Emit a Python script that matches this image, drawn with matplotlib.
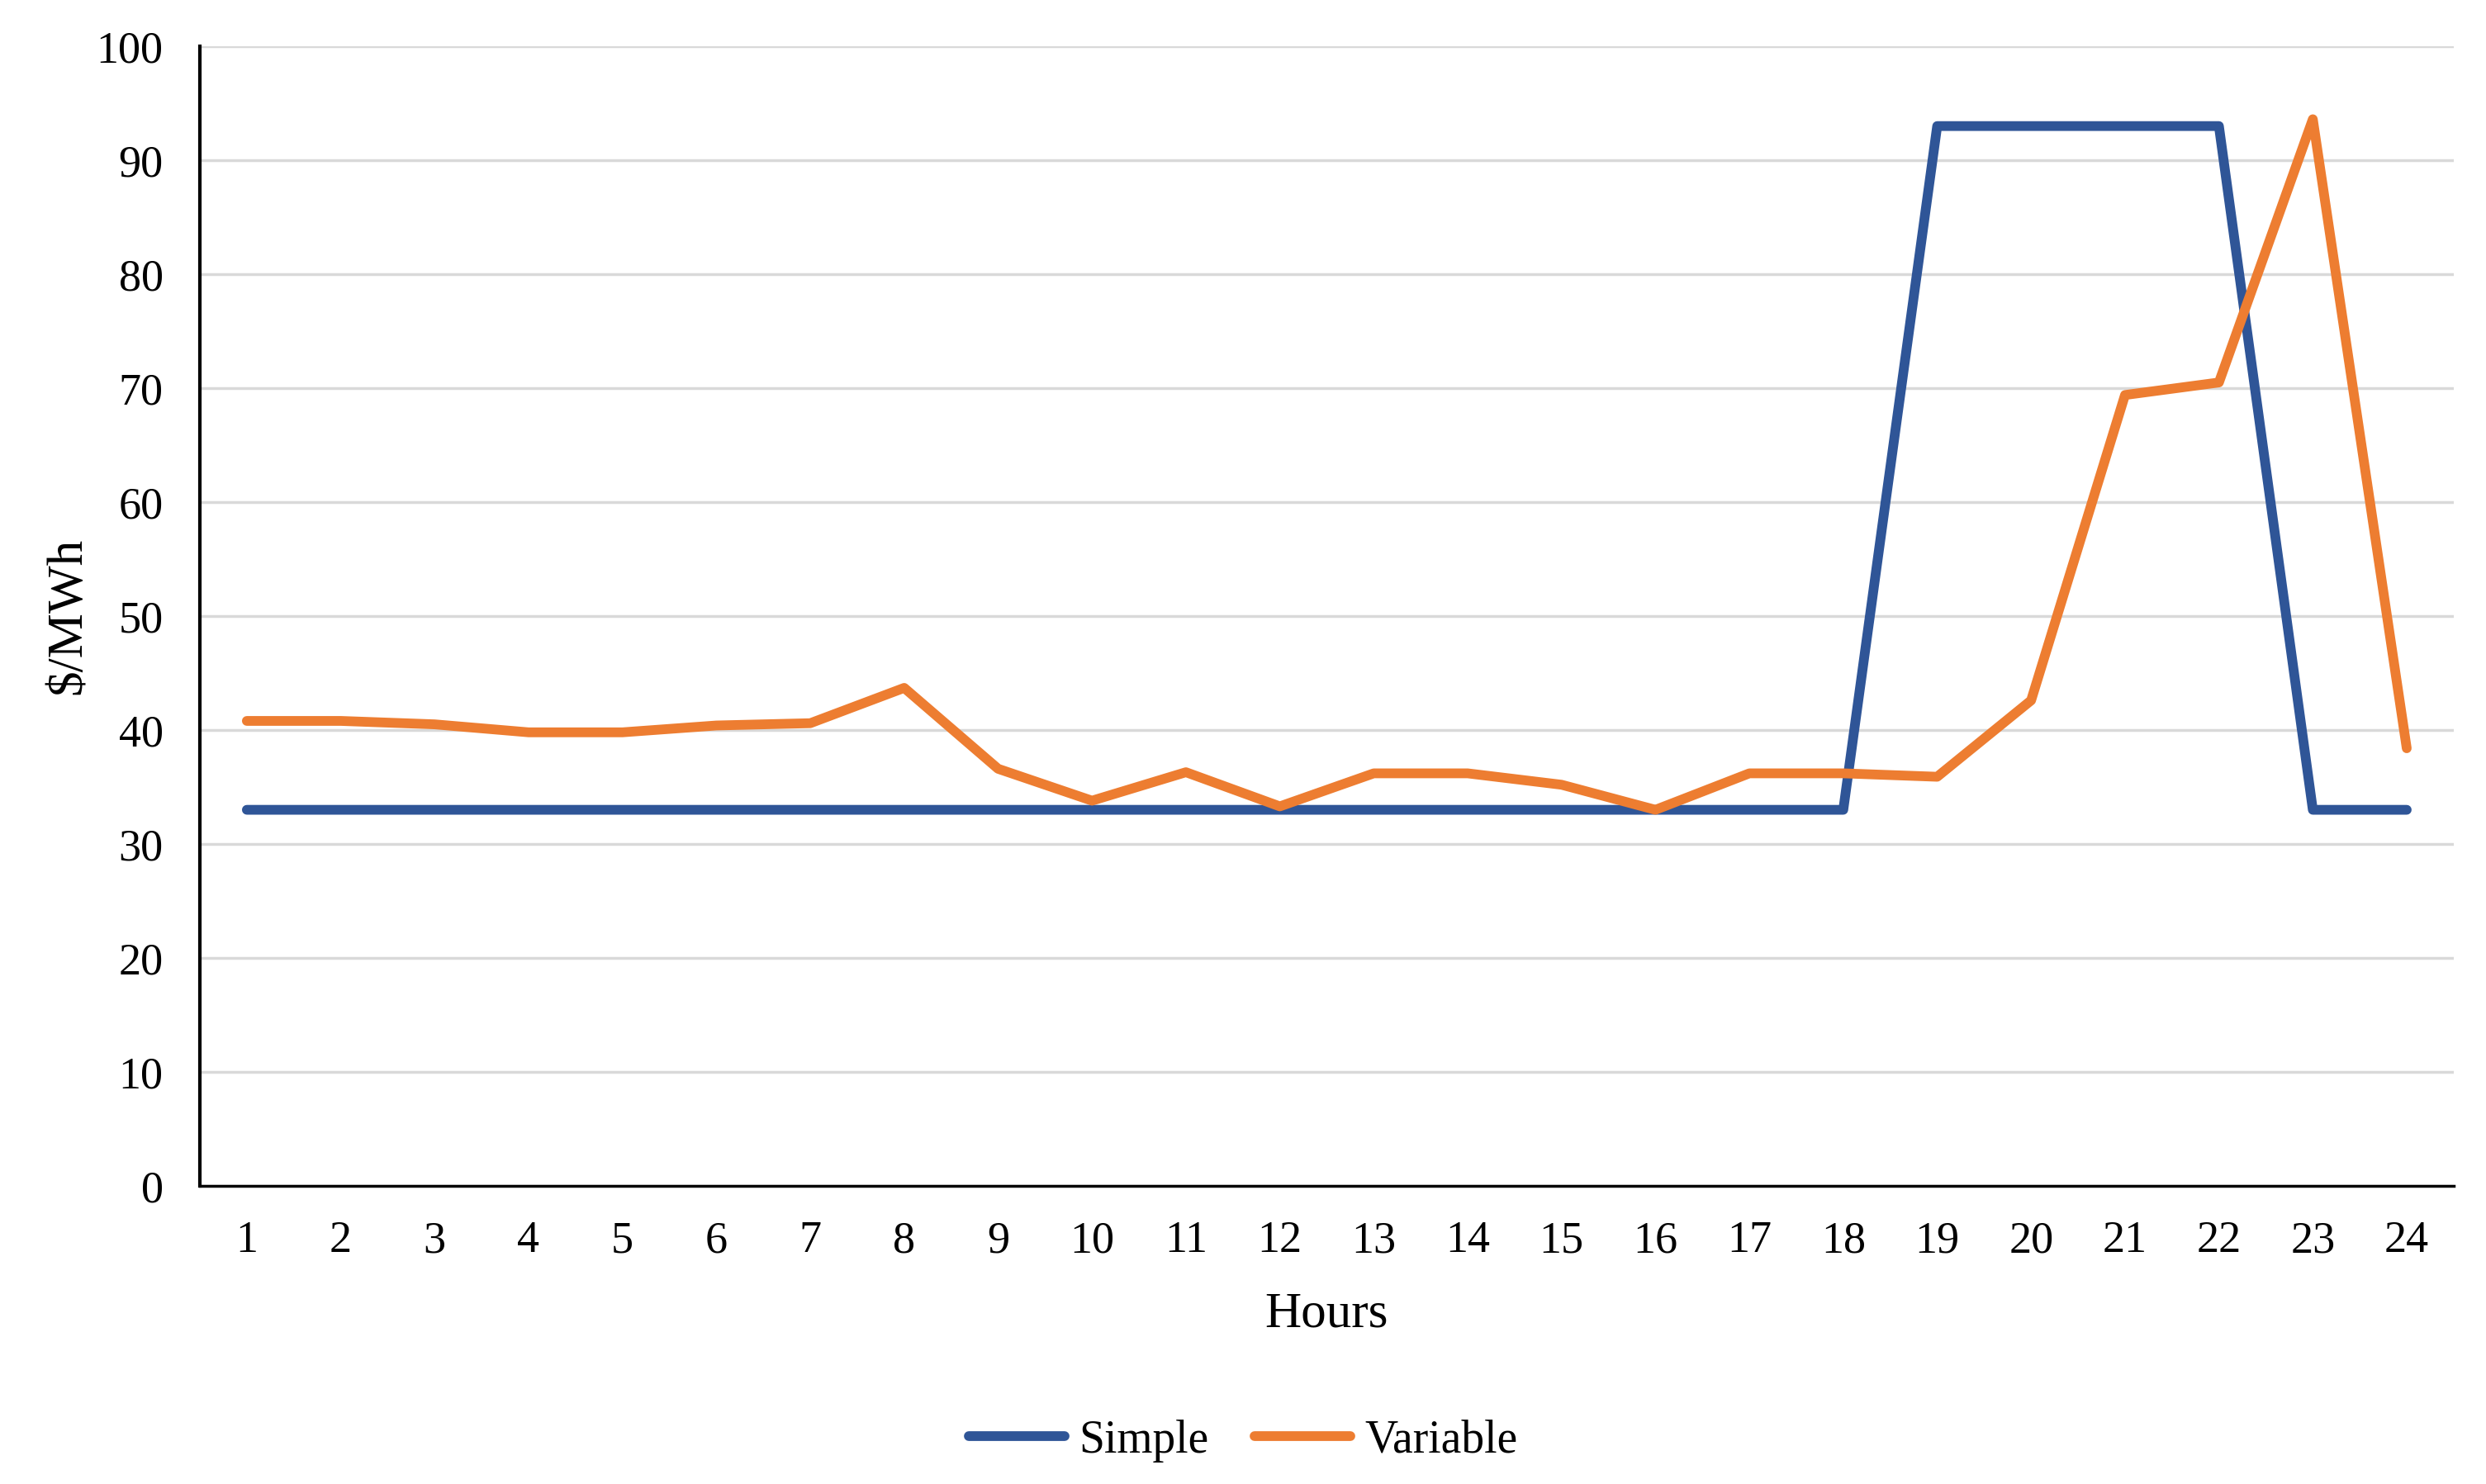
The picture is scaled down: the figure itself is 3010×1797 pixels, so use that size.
import numpy as np
import matplotlib
matplotlib.use('Agg')
import matplotlib.pyplot as plt

# 数据
hours = list(range(1, 25))
simple = [33, 33, 33, 33, 33, 33, 33, 33, 33, 33, 33, 33,
          33, 33, 33, 33, 33, 33, 93, 93, 93, 93, 33, 33]
variable = [40.8, 40.8, 40.5, 39.8, 39.8, 40.4, 40.6, 43.7, 36.6, 33.8, 36.3, 33.3,
            36.2, 36.2, 35.2, 33.0, 36.2, 36.2, 35.9, 42.6, 69.4, 70.5, 93.6, 38.4]
y_ticks = list(range(0, 101, 10))

plt.rcParams['font.family'] = ['Liberation Serif', 'DejaVu Serif']

fig = plt.figure(figsize=(30.1, 17.97), dpi=100)
ax = fig.add_axes([0.0804, 0.2009, 0.9066, 0.7679])

ax.plot(hours, simple, color='#2F5597', lw=8.5, solid_capstyle='round',
        solid_joinstyle='round', label='Simple', zorder=3)
ax.plot(hours, variable, color='#ED7D31', lw=8.5, solid_capstyle='round',
        solid_joinstyle='round', label='Variable', zorder=3)

ax.set_xlim(0.5, 24.5)
ax.set_ylim(0, 100)
ax.set_xticks(hours)
ax.set_yticks(y_ticks)
ax.tick_params(axis='both', length=0, labelsize=39)
ax.tick_params(axis='y', pad=32)
ax.tick_params(axis='x', pad=30)
ax.grid(axis='y', color='#D9D9D9', lw=2.5, zorder=0)

for s in ['top', 'right']:
    ax.spines[s].set_visible(False)
ax.spines['left'].set_linewidth(3)
ax.spines['bottom'].set_linewidth(2.5)

ax.set_xlabel('Hours', fontsize=44, labelpad=26)
ax.set_ylabel('$/MWh', fontsize=44, labelpad=4)

fig.legend(loc='center', bbox_to_anchor=(0.5, 0.029), ncol=2, frameon=False,
           fontsize=40, handlelength=2.1, handletextpad=0.3, columnspacing=1.0)

plt.savefig('out.png', dpi=100)
